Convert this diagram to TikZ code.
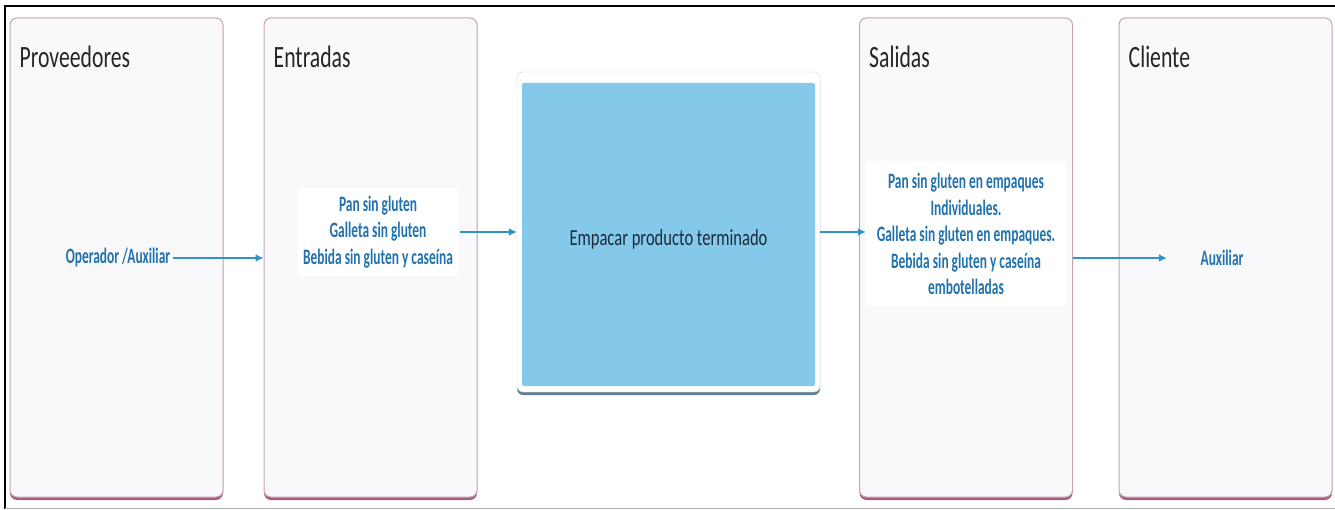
\documentclass[tikz,border=0pt]{standalone}
\usepackage{fontspec}
\setmainfont{Carlito}
\newfontfamily\lanefont{Carlito}[FakeStretch=0.70]
\newfontfamily\itemfont{Carlito}[FakeStretch=0.61, UprightFont=*-Bold]
\newfontfamily\taskfont{Carlito}[FakeStretch=0.72]
\usepackage{tikz}
\usetikzlibrary{arrows.meta, positioning, shadows}

\definecolor{lanefill}{HTML}{F9F9FB}
\definecolor{laneline}{HTML}{C9A3B3}
\definecolor{laneshade}{HTML}{A65F7E}
\definecolor{itemblue}{HTML}{2272AC}
\definecolor{flowblue}{HTML}{2E93C7}
\definecolor{taskblue}{HTML}{85C9EA}
\definecolor{taskframe}{HTML}{C3D3DE}
\definecolor{taskshade}{HTML}{5E7F97}
\definecolor{taskink}{HTML}{1C2B38}
\definecolor{titlegray}{HTML}{262626}

\begin{document}
\begin{tikzpicture}[x=1pt, y=-1pt,
  lane/.style={draw=laneline, line width=1pt, fill=lanefill, rounded corners=7pt,
    minimum width=213pt, minimum height=479pt, inner sep=0pt,
    drop shadow={shadow xshift=0pt, shadow yshift=-3pt, fill=laneshade, opacity=1}},
  lanetitle/.style={anchor=base west, inner sep=0pt, text=titlegray,
    font=\lanefont\fontsize{31}{37}\selectfont},
  items/.style={align=center, fill=white, inner sep=0pt, text=itemblue,
    font=\itemfont\fontsize{22}{26.5}\selectfont},
  flow/.style={draw=flowblue, line width=1.8pt, -{Latex[length=8pt, width=8pt]}}]
  \useasboundingbox (0,0) rectangle (1335,510);
  \fill[white] (0,0) rectangle (1335,510);
  \draw[line width=2pt] (5,509) -- (5,6) -- (1335,6);
  \draw[gray!60, line width=1.5pt] (5,508.5) -- (1335,508.5);

  % swimlanes
  \node[lane] (prov) at (116.5,257.5) {};
  \node[lane] (entr) at (370.5,257.5) {};
  \node[lane] (sali) at (966,257.5) {};
  \node[lane] (clie) at (1225.5,257.5) {};
  \node[lanetitle] (provTitle) at ([shift={(10pt,-50pt)}]prov.north west) {Proveedores};
  \node[lanetitle] (entrTitle) at ([shift={(10pt,-50pt)}]entr.north west) {Entradas};
  \node[lanetitle] (saliTitle) at ([shift={(10pt,-50pt)}]sali.north west) {Salidas};
  \node[lanetitle] (clieTitle) at ([shift={(10pt,-50pt)}]clie.north west) {Cliente};

  % process
  \node[draw=taskframe, fill=white, rounded corners=6pt, minimum width=303pt, minimum height=320pt,
    drop shadow={shadow xshift=0pt, shadow yshift=-3pt, fill=taskshade, opacity=1},
    path picture={\fill[taskblue, rounded corners=2pt] ([shift={(5pt,-11pt)}]path picture bounding box.north west)
      rectangle ([shift={(-5pt,6pt)}]path picture bounding box.south east);},
    text=taskink, font=\taskfont\fontsize{23}{28}\selectfont, text height=30pt, text depth=3pt]
    (pack) at (668.5,232) {Empacar producto terminado};

  \node[items, fill=none] (oper) at (118,258) {Operador /Auxiliar};
  \node[items, minimum width=160pt, minimum height=88pt] (entrItems) at (378,232)
    {Pan sin gluten\\Galleta sin gluten\\Bebida sin gluten y caseína};
  \node[items, minimum width=200pt, minimum height=145pt] (saliItems) at (966,234)
    {Pan sin gluten en empaques\\Individuales.\\Galleta sin gluten en empaques.\\Bebida sin gluten y caseína\\embotelladas};
  \node[items, fill=none, minimum width=110pt] (aux) at (1222,258) {Auxiliar};

  \draw[flow] ([xshift=3pt]oper.east) -- (oper.east -| entr.west);
  \draw[flow] ([xshift=2pt]entrItems.east |- pack) -- (pack.west);
  \draw[flow] (pack.east) -- (pack.east -| saliItems.west);
  \draw[flow] (sali.east |- aux) -- (aux.west);
\end{tikzpicture}
\end{document}
